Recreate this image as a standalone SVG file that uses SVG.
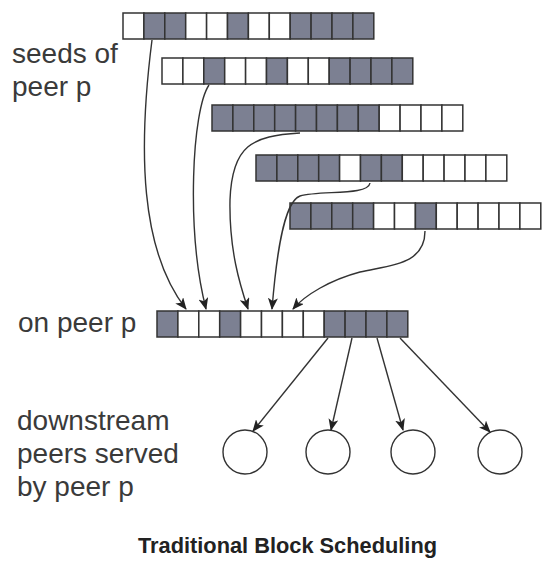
<svg xmlns="http://www.w3.org/2000/svg" width="557" height="563" viewBox="0 0 557 563">
<defs>
<style>
.g{fill:#7c8092;stroke:#333;stroke-width:1.5}
.w{fill:#fff;stroke:#333;stroke-width:1.5}
.lbl{font-family:"Liberation Sans",Arial,sans-serif;font-size:28px;fill:#3a3a3a}
.title{font-family:"Liberation Sans",Arial,sans-serif;font-size:21.5px;font-weight:bold;fill:#222}
.c{fill:none;stroke:#333;stroke-width:1.4}
.node{fill:#fff;stroke:#333;stroke-width:1.4}
</style>
<marker id="ah" markerWidth="12" markerHeight="10" refX="11" refY="5" orient="auto" markerUnits="userSpaceOnUse">
<path d="M0,0 L12,5 L0,10 L3,5 Z" fill="#222"/>
</marker>
<rect id="cg" class="g" width="20.9" height="26"/>
<rect id="cw" class="w" width="20.9" height="26"/>
</defs>
<rect width="557" height="563" fill="#fff"/>

<g id="labels">
<text class="lbl" x="12" y="63">seeds of</text>
<text class="lbl" x="12" y="96">peer p</text>
<text class="lbl" x="18" y="332">on peer p</text>
<text class="lbl" x="17" y="430">downstream</text>
<text class="lbl" x="17" y="463">peers served</text>
<text class="lbl" x="17" y="496">by peer p</text>
<text class="title" x="138" y="553" textLength="299" lengthAdjust="spacingAndGlyphs">Traditional Block Scheduling</text>
</g>

<g id="seed1" transform="translate(123,13)">
<use href="#cw" x="0"/><use href="#cg" x="20.9"/><use href="#cg" x="41.8"/><use href="#cw" x="62.7"/><use href="#cw" x="83.6"/><use href="#cg" x="104.5"/><use href="#cw" x="125.4"/><use href="#cw" x="146.3"/><use href="#cg" x="167.2"/><use href="#cg" x="188.1"/><use href="#cg" x="209"/><use href="#cg" x="229.9"/>
</g>
<g id="seed2" transform="translate(162,58)">
<use href="#cw" x="0"/><use href="#cw" x="20.9"/><use href="#cg" x="41.8"/><use href="#cw" x="62.7"/><use href="#cw" x="83.6"/><use href="#cg" x="104.5"/><use href="#cw" x="125.4"/><use href="#cw" x="146.3"/><use href="#cg" x="167.2"/><use href="#cg" x="188.1"/><use href="#cg" x="209"/><use href="#cg" x="229.9"/>
</g>
<g id="seed3" transform="translate(212,105)">
<use href="#cg" x="0"/><use href="#cg" x="20.9"/><use href="#cg" x="41.8"/><use href="#cg" x="62.7"/><use href="#cg" x="83.6"/><use href="#cg" x="104.5"/><use href="#cg" x="125.4"/><use href="#cg" x="146.3"/><use href="#cw" x="167.2"/><use href="#cw" x="188.1"/><use href="#cw" x="209"/><use href="#cw" x="229.9"/>
</g>
<g id="seed4" transform="translate(256,155)">
<use href="#cg" x="0"/><use href="#cg" x="20.9"/><use href="#cg" x="41.8"/><use href="#cg" x="62.7"/><use href="#cw" x="83.6"/><use href="#cg" x="104.5"/><use href="#cg" x="125.4"/><use href="#cw" x="146.3"/><use href="#cw" x="167.2"/><use href="#cw" x="188.1"/><use href="#cw" x="209"/><use href="#cw" x="229.9"/>
</g>
<g id="seed5" transform="translate(290,203)">
<use href="#cg" x="0"/><use href="#cg" x="20.9"/><use href="#cg" x="41.8"/><use href="#cg" x="62.7"/><use href="#cw" x="83.6"/><use href="#cw" x="104.5"/><use href="#cg" x="125.4"/><use href="#cw" x="146.3"/><use href="#cw" x="167.2"/><use href="#cw" x="188.1"/><use href="#cw" x="209"/><use href="#cw" x="229.9"/>
</g>
<g id="peerp" transform="translate(157,311)">
<use href="#cg" x="0"/><use href="#cw" x="20.9"/><use href="#cw" x="41.8"/><use href="#cg" x="62.7"/><use href="#cw" x="83.6"/><use href="#cw" x="104.5"/><use href="#cw" x="125.4"/><use href="#cw" x="146.3"/><use href="#cg" x="167.2"/><use href="#cg" x="188.1"/><use href="#cg" x="209"/><use href="#cg" x="229.9"/>
</g>

<g id="down1"><circle class="node" cx="245" cy="452" r="22"/></g>
<g id="down2"><circle class="node" cx="328" cy="452" r="22"/></g>
<g id="down3"><circle class="node" cx="413" cy="452" r="22"/></g>
<g id="down4"><circle class="node" cx="500" cy="452" r="22"/></g>

<g id="connectors">
<path class="c" marker-end="url(#ah)" d="M152,40 C138,150 140,250 186,309"/>
<path class="c" marker-end="url(#ah)" d="M209,85 C192,110 186,230 206,309"/>
<path class="c" marker-end="url(#ah)" d="M300,133 C252,136 232,145 230,200 C229,250 240,285 248,309"/>
<path class="c" marker-end="url(#ah)" d="M370,183 C368,196 320,190 300,196 C283,202 276,260 272,309"/>
<path class="c" marker-end="url(#ah)" d="M425,231 C425,265 390,265 360,272 C330,280 305,295 293,309"/>
<path class="c" marker-end="url(#ah)" d="M328,338 L253,431"/>
<path class="c" marker-end="url(#ah)" d="M352,338 L331,430"/>
<path class="c" marker-end="url(#ah)" d="M377,338 L403,430"/>
<path class="c" marker-end="url(#ah)" d="M400,338 L490,432"/>
</g>
</svg>
